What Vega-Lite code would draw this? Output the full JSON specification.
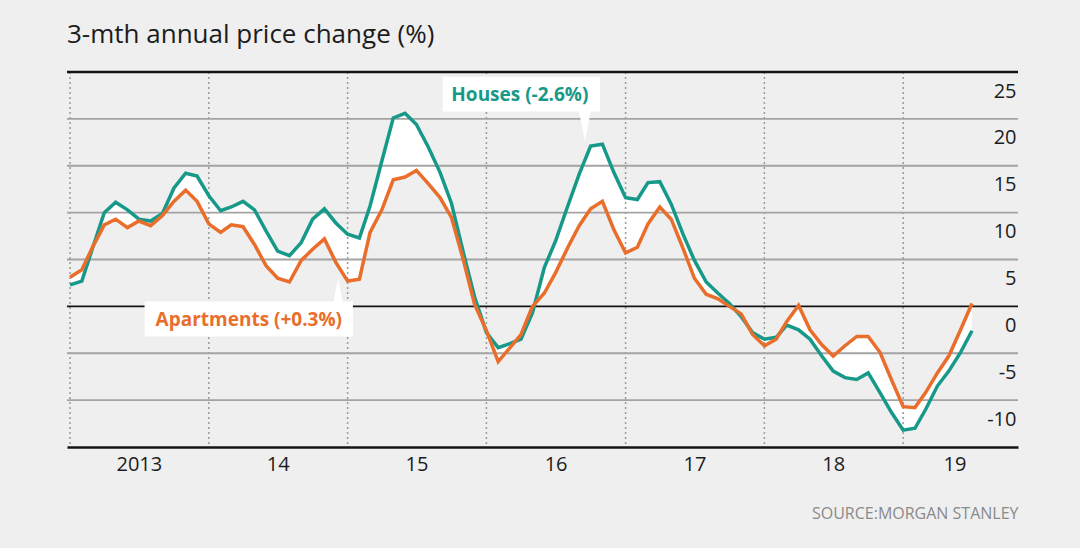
{
  "$schema": "https://vega.github.io/schema/vega-lite/v6.json",
  "width": 951,
  "height": 375,
  "autosize": {"type": "none"},
  "padding": {"left": 67, "top": 72, "right": 62, "bottom": 101},
  "background": "#efefef",
  "title": {
    "text": "3-mth annual price change (%)",
    "anchor": "start",
    "frame": "group",
    "font": "Open Sans",
    "fontSize": 26,
    "fontWeight": "normal",
    "color": "#1c1c1c",
    "baseline": "alphabetic",
    "offset": 2
  },
  "config": {
    "view": {"stroke": null},
    "font": "Open Sans"
  },
  "datasets": {
    "main": [
      {"d": "2013-01-01", "h": 2.3, "a": 3.1},
      {"d": "2013-02-01", "h": 2.7, "a": 3.9},
      {"d": "2013-03-01", "h": 6.2, "a": 6.3},
      {"d": "2013-04-01", "h": 10.0, "a": 8.7},
      {"d": "2013-05-01", "h": 11.1, "a": 9.3},
      {"d": "2013-06-01", "h": 10.3, "a": 8.4},
      {"d": "2013-07-01", "h": 9.3, "a": 9.1},
      {"d": "2013-08-01", "h": 9.1, "a": 8.6},
      {"d": "2013-09-01", "h": 9.9, "a": 9.7},
      {"d": "2013-10-01", "h": 12.6, "a": 11.2},
      {"d": "2013-11-01", "h": 14.2, "a": 12.4},
      {"d": "2013-12-01", "h": 13.9, "a": 11.2},
      {"d": "2014-01-01", "h": 11.8, "a": 8.8},
      {"d": "2014-02-01", "h": 10.2, "a": 7.9},
      {"d": "2014-03-01", "h": 10.6, "a": 8.7},
      {"d": "2014-04-01", "h": 11.2, "a": 8.5},
      {"d": "2014-05-01", "h": 10.3, "a": 6.6},
      {"d": "2014-06-01", "h": 8.0, "a": 4.3},
      {"d": "2014-07-01", "h": 5.9, "a": 3.0},
      {"d": "2014-08-01", "h": 5.4, "a": 2.6},
      {"d": "2014-09-01", "h": 6.8, "a": 4.9},
      {"d": "2014-10-01", "h": 9.3, "a": 6.1},
      {"d": "2014-11-01", "h": 10.4, "a": 7.2},
      {"d": "2014-12-01", "h": 8.9, "a": 4.7},
      {"d": "2015-01-01", "h": 7.7, "a": 2.7},
      {"d": "2015-02-01", "h": 7.3, "a": 2.9},
      {"d": "2015-03-01", "h": 10.7, "a": 7.9},
      {"d": "2015-04-01", "h": 15.5, "a": 10.3},
      {"d": "2015-05-01", "h": 20.1, "a": 13.5},
      {"d": "2015-06-01", "h": 20.6, "a": 13.8},
      {"d": "2015-07-01", "h": 19.4, "a": 14.5},
      {"d": "2015-08-01", "h": 17.0, "a": 13.1},
      {"d": "2015-09-01", "h": 14.3, "a": 11.6},
      {"d": "2015-10-01", "h": 11.0, "a": 9.5},
      {"d": "2015-11-01", "h": 5.8, "a": 5.0},
      {"d": "2015-12-01", "h": 1.0, "a": 0.2},
      {"d": "2016-01-01", "h": -2.8, "a": -2.6},
      {"d": "2016-02-01", "h": -4.4, "a": -5.9},
      {"d": "2016-03-01", "h": -4.0, "a": -4.5},
      {"d": "2016-04-01", "h": -3.5, "a": -3.0},
      {"d": "2016-05-01", "h": -0.7, "a": 0.0},
      {"d": "2016-06-01", "h": 4.1, "a": 1.4},
      {"d": "2016-07-01", "h": 7.0, "a": 3.6},
      {"d": "2016-08-01", "h": 10.6, "a": 6.2},
      {"d": "2016-09-01", "h": 14.1, "a": 8.6},
      {"d": "2016-10-01", "h": 17.1, "a": 10.4},
      {"d": "2016-11-01", "h": 17.3, "a": 11.2},
      {"d": "2016-12-01", "h": 14.3, "a": 8.2},
      {"d": "2017-01-01", "h": 11.6, "a": 5.7},
      {"d": "2017-02-01", "h": 11.4, "a": 6.3},
      {"d": "2017-03-01", "h": 13.2, "a": 8.8},
      {"d": "2017-04-01", "h": 13.3, "a": 10.6},
      {"d": "2017-05-01", "h": 10.9, "a": 9.3},
      {"d": "2017-06-01", "h": 7.7, "a": 6.2},
      {"d": "2017-07-01", "h": 4.9, "a": 3.0},
      {"d": "2017-08-01", "h": 2.6, "a": 1.3},
      {"d": "2017-09-01", "h": 1.4, "a": 0.8},
      {"d": "2017-10-01", "h": 0.3, "a": 0.0},
      {"d": "2017-11-01", "h": -1.1, "a": -0.8},
      {"d": "2017-12-01", "h": -2.8, "a": -3.0},
      {"d": "2018-01-01", "h": -3.5, "a": -4.2},
      {"d": "2018-02-01", "h": -3.3, "a": -3.5},
      {"d": "2018-03-01", "h": -2.0, "a": -1.6},
      {"d": "2018-04-01", "h": -2.5, "a": 0.1},
      {"d": "2018-05-01", "h": -3.5, "a": -2.5},
      {"d": "2018-06-01", "h": -5.3, "a": -4.1},
      {"d": "2018-07-01", "h": -6.9, "a": -5.3},
      {"d": "2018-08-01", "h": -7.6, "a": -4.2},
      {"d": "2018-09-01", "h": -7.8, "a": -3.2},
      {"d": "2018-10-01", "h": -7.1, "a": -3.2},
      {"d": "2018-11-01", "h": -9.2, "a": -4.9},
      {"d": "2018-12-01", "h": -11.3, "a": -7.8},
      {"d": "2019-01-01", "h": -13.2, "a": -10.7},
      {"d": "2019-02-01", "h": -13.0, "a": -10.8},
      {"d": "2019-03-01", "h": -11.0, "a": -9.2},
      {"d": "2019-04-01", "h": -8.5, "a": -7.1},
      {"d": "2019-05-01", "h": -6.9, "a": -5.3},
      {"d": "2019-06-01", "h": -4.9, "a": -2.5},
      {"d": "2019-07-01", "h": -2.6, "a": 0.3}
    ],
    "years": [
      {"d": "2013-01-01"}, {"d": "2014-01-01"}, {"d": "2015-01-01"}, {"d": "2016-01-01"},
      {"d": "2017-01-01"}, {"d": "2018-01-01"}, {"d": "2019-01-01"}
    ],
    "grid": [
      {"v": -10}, {"v": -5}, {"v": 0}, {"v": 5}, {"v": 10}, {"v": 15}, {"v": 20}, {"v": 25}
    ],
    "notes": [
      {"series": "Houses", "label": "Houses (-2.6%)", "d": "2016-03-29", "v": 22.6, "d1": "2015-09-08", "d2": "2016-10-26", "v1": 24.5, "v2": 20.8, "pd": "2016-09-16", "pv": 19.25},
      {"series": "Apartments", "label": "Apartments (+0.3%)", "d": "2014-04-16", "v": -1.4, "d1": "2013-07-16", "d2": "2015-01-15", "v1": 0.53, "v2": -3.2, "pd": "2014-12-07", "pv": 1.7}
    ]
  },
  "encoding": {
    "x": {
      "field": "d",
      "type": "temporal",
      "scale": {
        "type": "utc",
        "domain": [
          {"year": 2012, "month": 12, "date": 24, "utc": true},
          {"year": 2019, "month": 10, "date": 30, "utc": true}
        ]
      },
      "axis": {
        "values": [
          {"year": 2013, "month": 7, "date": 1, "utc": true},
          {"year": 2014, "month": 7, "date": 1, "utc": true},
          {"year": 2015, "month": 7, "date": 1, "utc": true},
          {"year": 2016, "month": 7, "date": 1, "utc": true},
          {"year": 2017, "month": 7, "date": 1, "utc": true},
          {"year": 2018, "month": 7, "date": 1, "utc": true},
          {"year": 2019, "month": 5, "date": 16, "utc": true}
        ],
        "labelExpr": "utcyear(datum.value) === 2013 ? '2013' : substring(toString(utcyear(datum.value)), 2, 4)",
        "ticks": false,
        "grid": false,
        "domain": true,
        "domainColor": "#141414",
        "domainWidth": 2.5,
        "labelPadding": 7,
        "labelFont": "Open Sans",
        "labelFontSize": 20,
        "labelColor": "#1c1c1c",
        "labelFlush": false,
        "title": "SOURCE:MORGAN STANLEY",
        "titleFont": "Open Sans",
        "titleFontSize": 16,
        "titleFontWeight": "normal",
        "titleColor": "#8a8a8a",
        "titleAnchor": "end",
        "titleAlign": "right",
        "titleBaseline": "alphabetic",
        "titleX": 951,
        "titleY": 71
      }
    }
  },
  "layer": [
    {
      "data": {"name": "main"},
      "mark": {"type": "area", "color": "#ffffff", "opacity": 0.95},
      "encoding": {
        "y": {
          "field": "h",
          "type": "quantitative",
          "scale": {"domain": [-15, 25], "nice": false, "zero": false},
          "axis": {
            "orient": "right",
            "values": [-10, -5, 0, 5, 10, 15, 20, 25],
            "labelExpr": "'' + datum.value",
            "ticks": false,
            "grid": false,
            "domain": false,
            "labelAlign": "right",
            "labelBaseline": "top",
            "labelOffset": 9,
            "labelPadding": -2,
            "labelFlush": false,
            "labelFont": "Open Sans",
            "labelFontSize": 20,
            "labelColor": "#1c1c1c",
            "title": null
          }
        },
        "y2": {"field": "a"}
      }
    },
    {
      "data": {"name": "years"},
      "mark": {"type": "rule", "color": "#9a9a9a", "strokeWidth": 1.5, "strokeDash": [2, 3]},
      "encoding": {}
    },
    {
      "data": {"name": "grid"},
      "mark": {"type": "rule"},
      "encoding": {
        "x": null,
        "y": {"field": "v", "type": "quantitative"},
        "color": {
          "condition": {"test": "datum.v === 0 || datum.v === 25", "value": "#141414"},
          "value": "#a3a3a3"
        },
        "strokeWidth": {
          "condition": {"test": "datum.v === 25", "value": 2.5},
          "value": 1.8
        }
      }
    },
    {
      "data": {"name": "main"},
      "mark": {"type": "line", "color": "#17998a", "strokeWidth": 3.5, "strokeJoin": "miter"},
      "encoding": {"y": {"field": "h", "type": "quantitative"}}
    },
    {
      "data": {"name": "main"},
      "mark": {"type": "line", "color": "#e96e2b", "strokeWidth": 3.5, "strokeJoin": "miter"},
      "encoding": {"y": {"field": "a", "type": "quantitative"}}
    },
    {
      "data": {"name": "notes"},
      "mark": {"type": "rect", "color": "#ffffff", "opacity": 1},
      "encoding": {
        "x": {"field": "d1", "type": "temporal"},
        "x2": {"field": "d2"},
        "y": {"field": "v1", "type": "quantitative"},
        "y2": {"field": "v2"}
      }
    },
    {
      "data": {"name": "notes"},
      "transform": [{"filter": "datum.series === 'Houses'"}],
      "mark": {"type": "point", "shape": "M-0.4,-1L0.4,-1L0,1Z", "size": 900, "filled": true, "color": "#ffffff", "opacity": 1, "strokeWidth": 0},
      "encoding": {
        "x": {"field": "pd", "type": "temporal"},
        "y": {"field": "pv", "type": "quantitative"}
      }
    },
    {
      "data": {"name": "notes"},
      "transform": [{"filter": "datum.series === 'Apartments'"}],
      "mark": {"type": "point", "shape": "M-0.4,1L0.4,1L0,-1Z", "size": 576, "filled": true, "color": "#ffffff", "opacity": 1, "strokeWidth": 0},
      "encoding": {
        "x": {"field": "pd", "type": "temporal"},
        "y": {"field": "pv", "type": "quantitative"}
      }
    },
    {
      "data": {"name": "notes"},
      "mark": {"type": "text", "font": "Open Sans", "fontSize": 19, "fontWeight": "bold", "align": "center", "baseline": "middle"},
      "encoding": {
        "x": {"field": "d", "type": "temporal"},
        "y": {"field": "v", "type": "quantitative"},
        "text": {"field": "label"},
        "color": {
          "field": "series",
          "type": "nominal",
          "scale": {"domain": ["Houses", "Apartments"], "range": ["#17998a", "#e96e2b"]},
          "legend": null
        }
      }
    }
  ]
}
